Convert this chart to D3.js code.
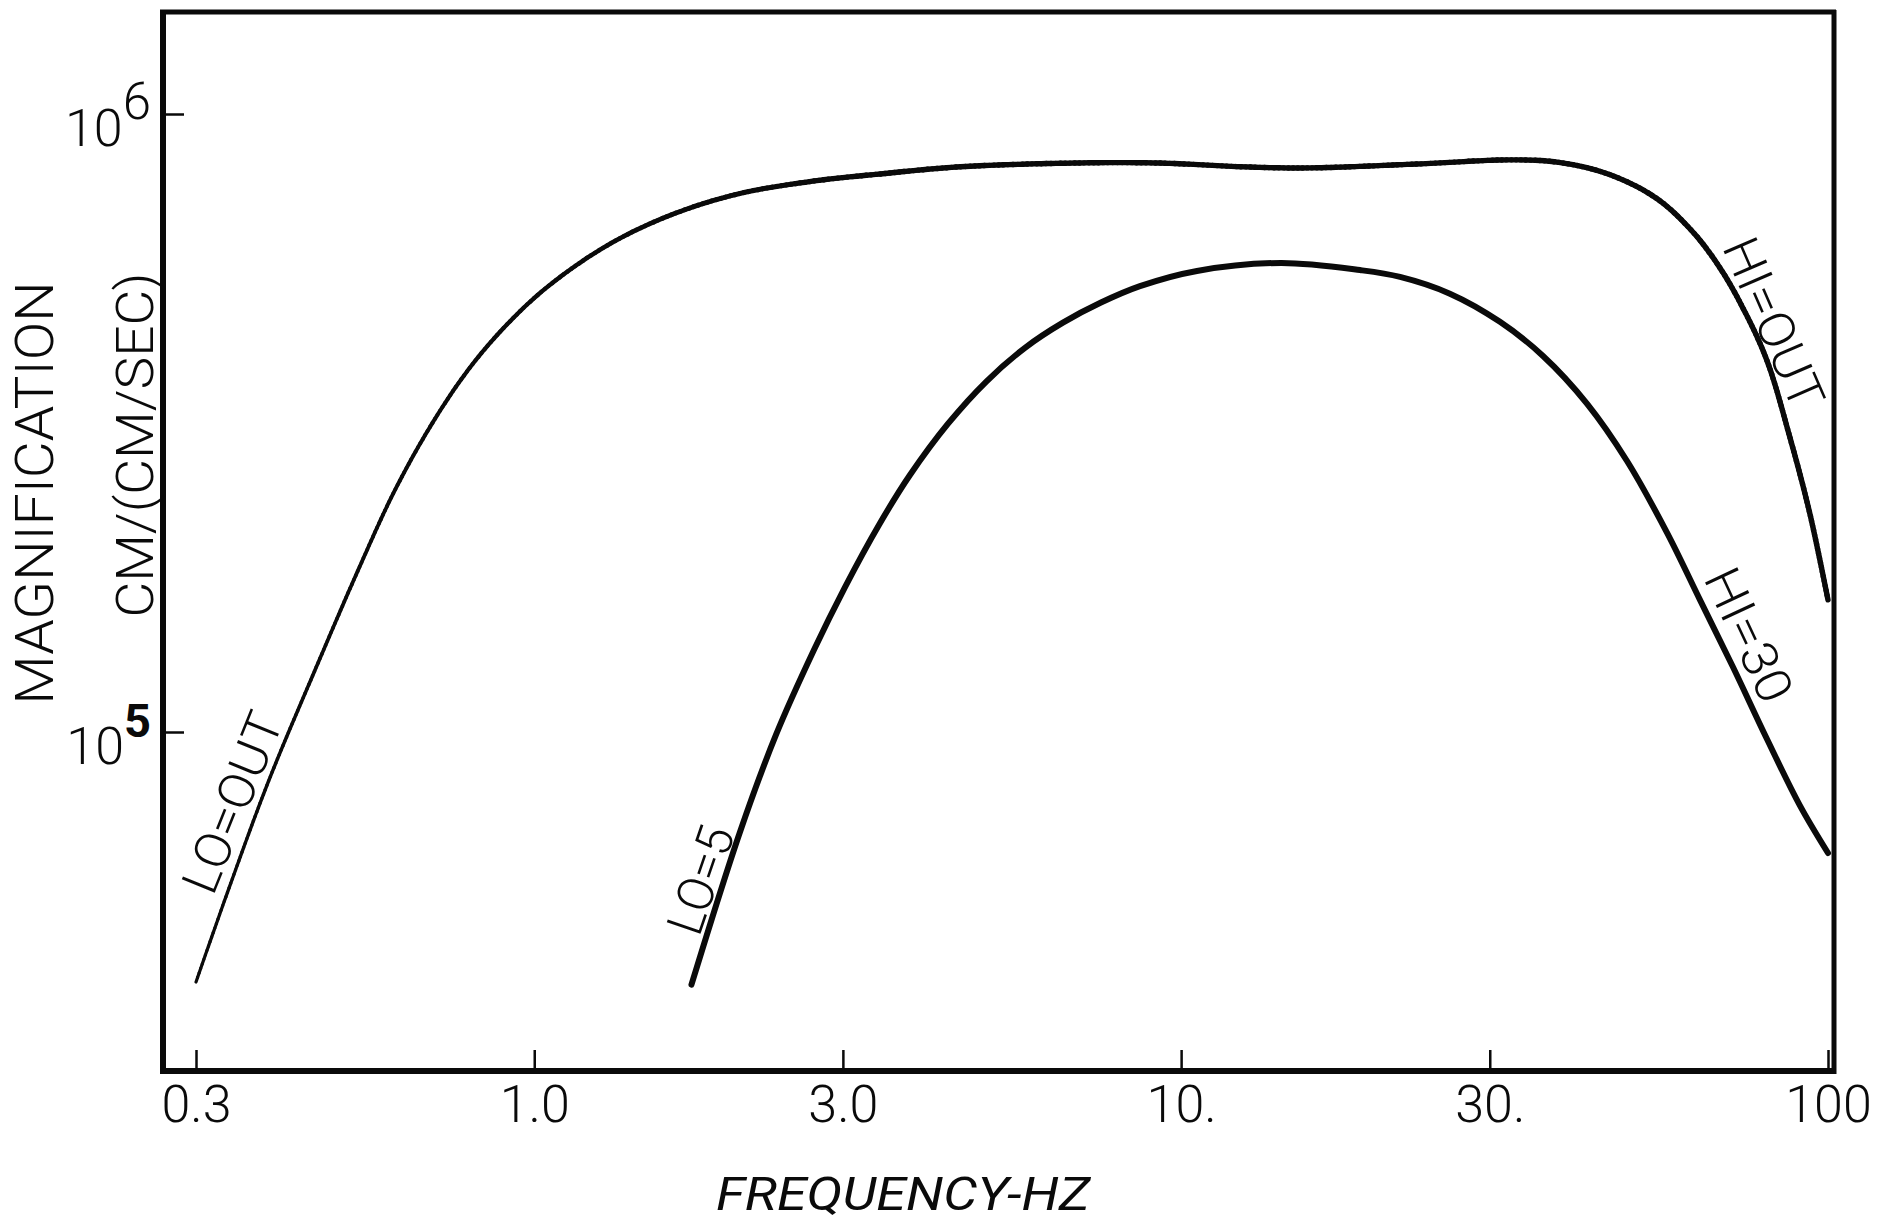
<!DOCTYPE html>
<html><head><meta charset="utf-8">
<script src="https://cdn.jsdelivr.net/npm/d3@7"></script>
<style>html,body{margin:0;padding:0;background:#fff;} svg{display:block}</style>
</head><body>
<svg id="c" width="1881" height="1225"></svg>
<script>
// ---- data ----
const freqLoOut = [0.300,0.337,0.389,0.457,0.536,0.607,0.690,0.784,0.891,1.043,1.300,1.627,2.065,2.706,3.423,4.519,6.805,9.24,12.60,15.71,23.15,32.7,38.5,45.7,54.2,61.8,68.1,73.9,80.4,87.3,93.8,100];
const magLoOut  = [39400,55700,83600,125100,184200,244500,311600,381000,447300,523000,613800,686500,742300,779000,799700,821000,833000,833000,821000,818000,830000,843000,834600,799700,731400,644500,563300,485000,400000,300000,225000,163600];
const freqLo5 = [1.750,2.080,2.364,2.706,3.023,3.411,3.809,4.362,5.003,5.736,6.566,7.518,8.637,10.58,14.27,18.90,21.8,26.03,31.11,36.26,42.4,48.9,56.4,63.4,71.3,80.4,90.5,100];
const magLo5  = [39000,68900,98900,135700,171600,216300,260500,315400,369400,418500,459600,495300,526500,557200,574000,559000,545000,512000,461000,406000,340000,274500,210000,163600,127400,97600,76000,63700];
const xTicks = [0.3, 1, 3, 10, 30, 100];
const xTickLabels = ["0.3","1.0","3.0","10.","30.","100"];
const yTicks = [1e5, 1e6];
const yExponents = ["5","6"];
const curveLabelTexts = ["LO=OUT","LO=5","HI=OUT","HI=30"];
const curveLabelFreq = [0.3187, 1.798, 68.5, 64.1];
const curveLabelMag  = [54100, 46400, 609000, 177500];
const xTitle = "FREQUENCY-HZ";
const yTitle1 = "MAGNIFICATION";
const yTitle2 = "CM/(CM/SEC)";

// ---- layout ----
const svg = d3.select("#c");
const frame = {left:163, top:12, right:1834, bottom:1071};
const x = d3.scaleLog().domain([0.3, 100]).range([196, 1828]);
const y = d3.scaleLog().domain([1e5, 1e6]).range([732, 114]);
const ink = "#0a0a0a";
const FONT = "Roboto, 'Liberation Sans', sans-serif";

// frame
svg.append("line").attr("x1",frame.left).attr("x2",frame.left).attr("y1",frame.top-2).attr("y2",frame.bottom+3).attr("stroke",ink).attr("stroke-width",6);
svg.append("line").attr("x1",frame.left-3).attr("x2",frame.right+2).attr("y1",frame.bottom).attr("y2",frame.bottom).attr("stroke",ink).attr("stroke-width",6);
svg.append("line").attr("x1",frame.left-3).attr("x2",frame.right+2).attr("y1",frame.top).attr("y2",frame.top).attr("stroke",ink).attr("stroke-width",5);
svg.append("line").attr("x1",frame.right).attr("x2",frame.right).attr("y1",frame.top-2).attr("y2",frame.bottom+3).attr("stroke",ink).attr("stroke-width",5);

// x axis
const xAxis = svg.append("g").attr("transform",`translate(0,${frame.bottom})`)
  .call(d3.axisBottom(x).tickValues(xTicks).tickFormat((d,i)=>xTickLabels[i]).tickSize(-21).tickPadding(14));
xAxis.select(".domain").remove();
xAxis.selectAll(".tick line").attr("stroke",ink).attr("stroke-width",2.5);
xAxis.selectAll(".tick text").attr("fill",ink).attr("font-family",FONT).attr("font-weight",300).attr("font-size",52);

// y axis
const yAxis = svg.append("g").attr("transform",`translate(${frame.left},0)`)
  .call(d3.axisLeft(y).tickValues(yTicks).tickFormat("").tickSize(-21));
yAxis.select(".domain").remove();
yAxis.selectAll(".tick line").attr("stroke",ink).attr("stroke-width",2.5);
yTicks.forEach((v,i)=>{
  const t = svg.append("text").attr("x",151).attr("y",y(v)+32).attr("text-anchor","end")
    .attr("font-family",FONT).attr("font-weight",300).attr("font-size",52).attr("fill",ink);
  t.append("tspan").text("10");
  t.append("tspan").attr("dy",-27).attr("font-size", yExponents[i]==="5"?47:51)
    .attr("font-weight", yExponents[i]==="5"?700:300).text(yExponents[i]);
});

// titles
svg.append("text").attr("x",903).attr("y",1210).attr("text-anchor","middle")
  .attr("font-family",FONT).attr("font-style","italic").attr("font-weight",400).attr("font-size",47)
  .attr("textLength",374).attr("lengthAdjust","spacingAndGlyphs").attr("fill",ink).text(xTitle);
svg.append("text").attr("transform","translate(53,493) rotate(-90)").attr("text-anchor","middle")
  .attr("font-family",FONT).attr("font-weight",300).attr("font-size",53)
  .attr("textLength",423).attr("lengthAdjust","spacingAndGlyphs").attr("fill",ink).text(yTitle1);
svg.append("text").attr("transform","translate(153,445) rotate(-90)").attr("text-anchor","middle")
  .attr("font-family",FONT).attr("font-weight",300).attr("font-size",52)
  .attr("textLength",345).attr("lengthAdjust","spacingAndGlyphs").attr("fill",ink).text(yTitle2);

// curves
const line = d3.line().x(d=>x(d[0])).y(d=>y(d[1])).curve(d3.curveCatmullRom.alpha(0.5));
function drawTapered(freqs, mags, w0, w1, fFull) {
  const pts = freqs.map((f,i)=>[f, mags[i]]);
  const tmp = svg.append("path").attr("d", line(pts)).attr("fill","none").attr("stroke","none");
  const node = tmp.node();
  const L = node.getTotalLength();
  const N = 500;
  const samples = d3.range(N+1).map(k=>node.getPointAtLength(L*k/N));
  const xa = x(freqs[0]), xb = x(fFull);
  const g = svg.append("g").attr("stroke",ink).attr("stroke-linecap","round").attr("fill","none");
  for (let k=0;k<N;k++){
    const a = samples[k], b = samples[k+1];
    const tt = Math.max(0, Math.min(1, (a.x - xa)/(xb - xa)));
    g.append("line").attr("x1",a.x).attr("y1",a.y).attr("x2",b.x).attr("y2",b.y)
      .attr("stroke-width", w0 + (w1-w0)*tt);
  }
  tmp.remove();
}
drawTapered(freqLoOut, magLoOut, 3.2, 5.4, 3.0);
svg.append("path").attr("d", line(freqLo5.map((f,i)=>[f, magLo5[i]])))
  .attr("fill","none").attr("stroke",ink).attr("stroke-width",6).attr("stroke-linecap","round");

// curve labels
const labelAngle = [-68, -71, 66.5, 65];
const labelLen = [190, 111, 181, 142];
curveLabelTexts.forEach((txt,i)=>{
  svg.append("text")
    .attr("transform",`translate(${x(curveLabelFreq[i])},${y(curveLabelMag[i])}) rotate(${labelAngle[i]})`)
    .attr("font-family",FONT).attr("font-weight",300).attr("font-size",50).attr("fill",ink)
    .attr("textLength",labelLen[i]).attr("lengthAdjust","spacingAndGlyphs").text(txt);
});
</script>
</body></html>
